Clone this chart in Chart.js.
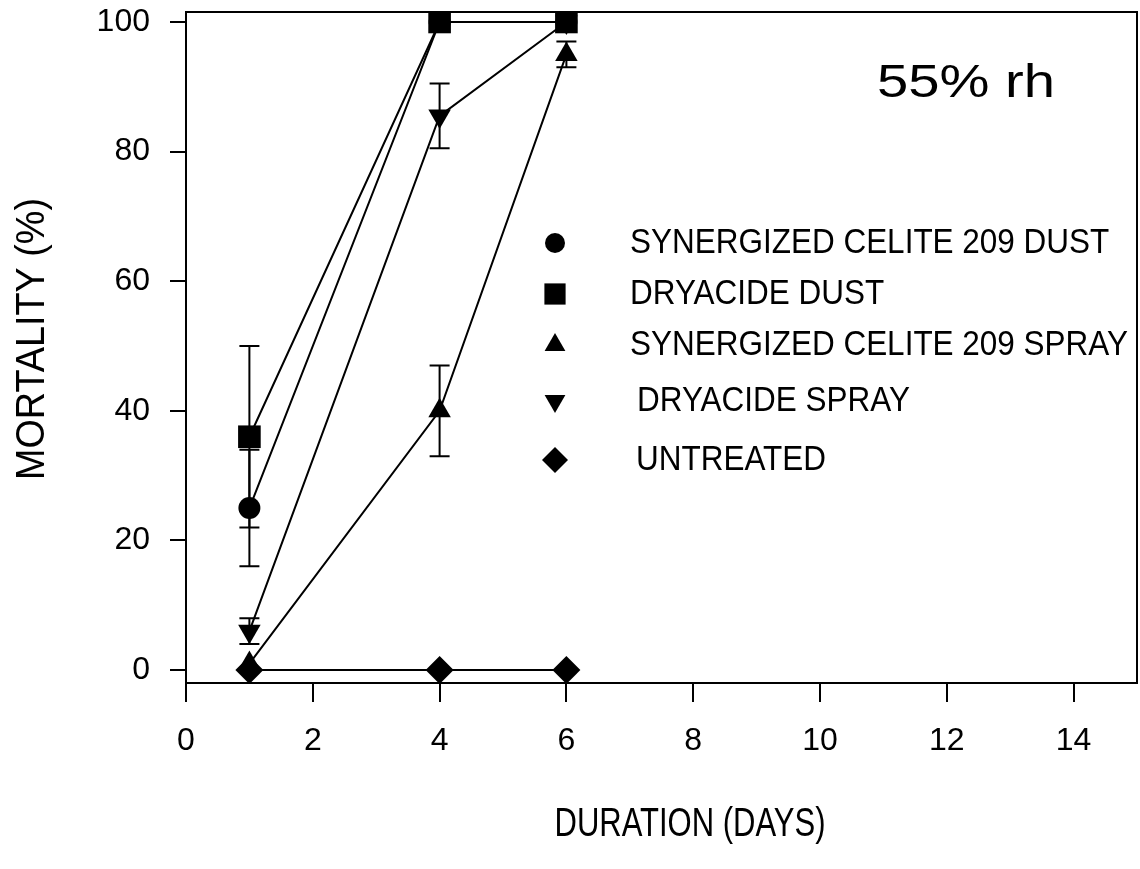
<!DOCTYPE html>
<html>
<head>
<meta charset="utf-8">
<script src="https://cdn.jsdelivr.net/npm/chart.js@4.4.0/dist/chart.umd.min.js"></script>
<style>
  html, body { margin: 0; padding: 0; background: #fff; }
</style>
</head>
<body>
<canvas id="chart" width="1140" height="869"></canvas>
<script>
// exposure time in days
const days = [1, 4, 6];

const seriesNames = [
    'SYNERGIZED CELITE 209 DUST',
    'DRYACIDE DUST',
    'SYNERGIZED CELITE 209 SPRAY',
    'DRYACIDE SPRAY',
    'UNTREATED'
];

// mortality (%) and error bar half-widths
const celiteDust = [25, 100, 100];
const celiteDustErr = [9, 0, 0];
const dryacideDust = [36, 100, 100];
const dryacideDustErr = [14, 0, 0];
const celiteSpray = [1, 40, 95];
const celiteSprayErr = [0, 7, 2];
const dryacideSpray = [6, 85.5, 100];
const dryacideSprayErr = [2, 5, 0];
const untreated = [0, 0, 0];
const untreatedErr = [0, 0, 0];

const xTicks = [0, 2, 4, 6, 8, 10, 12, 14];
const yTicks = [0, 20, 40, 60, 80, 100];

const xTitle = 'DURATION (DAYS)';
const yTitle = 'MORTALITY (%)';
const panelLabel = '55% rh';

function points(values, errs) {
    return days.map((d, i) => ({ x: d, y: values[i], err: errs[i] }));
}

const markerStyles = [
    { pointStyle: 'circle', radius: 11, rotation: 0 },
    { pointStyle: 'rect', radius: 16, rotation: 0 },
    { pointStyle: 'triangle', radius: 13, rotation: 0 },
    { pointStyle: 'triangle', radius: 13, rotation: 180 },
    { pointStyle: 'rectRot', radius: 14, rotation: 0 }
];
// lower order is drawn last (on top) where markers overlap
const drawOrder = [4, 0, 3, 2, 1];

const allValues = [celiteDust, dryacideDust, celiteSpray, dryacideSpray, untreated];
const allErrs = [celiteDustErr, dryacideDustErr, celiteSprayErr, dryacideSprayErr, untreatedErr];

const datasets = seriesNames.map((name, k) => ({
    label: name,
    data: points(allValues[k], allErrs[k]),
    showLine: true,
    borderColor: '#000',
    backgroundColor: '#000',
    borderWidth: 2,
    pointStyle: markerStyles[k].pointStyle,
    pointRadius: markerStyles[k].radius,
    pointRotation: markerStyles[k].rotation,
    pointBorderWidth: 0,
    order: drawOrder[k]
}));

const FONT = '"Liberation Sans", Arial, sans-serif';

// draws text squeezed horizontally to a target width (the scan uses a narrow face)
function narrowText(ctx, text, x, y, width, rotate) {
    const w = ctx.measureText(text).width;
    ctx.save();
    ctx.translate(x, y);
    if (rotate) ctx.rotate(-Math.PI / 2);
    ctx.scale(width / w, 1);
    ctx.fillText(text, 0, 0);
    ctx.restore();
}

// error bars, drawn under the markers
const errorBars = {
    id: 'errorBars',
    beforeDatasetsDraw(chart) {
        const ctx = chart.ctx;
        const xs = chart.scales.x, ys = chart.scales.y;
        ctx.save();
        ctx.strokeStyle = '#000';
        ctx.lineWidth = 2;
        chart.data.datasets.forEach(ds => {
            ds.data.forEach(p => {
                if (!p.err) return;
                const x = xs.getPixelForValue(p.x);
                const top = ys.getPixelForValue(Math.min(p.y + p.err, ys.max));
                const bot = ys.getPixelForValue(p.y - p.err);
                ctx.beginPath();
                ctx.moveTo(x, top); ctx.lineTo(x, bot);
                ctx.moveTo(x - 10, top); ctx.lineTo(x + 10, top);
                ctx.moveTo(x - 10, bot); ctx.lineTo(x + 10, bot);
                ctx.stroke();
            });
        });
        ctx.restore();
    }
};

// full frame, axis titles, in-plot legend and panel label
const decorations = {
    id: 'decorations',
    afterDraw(chart) {
        const ctx = chart.ctx;
        const a = chart.chartArea;
        ctx.save();
        ctx.strokeStyle = '#000';
        ctx.lineWidth = 2;
        ctx.strokeRect(a.left, a.top, a.right - a.left, a.bottom - a.top);

        ctx.fillStyle = '#000';
        ctx.textBaseline = 'middle';

        // axis titles
        ctx.textAlign = 'center';
        ctx.font = '40px ' + FONT;
        narrowText(ctx, xTitle, 690, 825, 271, false);
        narrowText(ctx, yTitle, 33, 339, 282, true);

        // legend
        ctx.textAlign = 'left';
        const rows = [243, 294, 345, 401, 460];
        const textX = [630, 630, 630, 637, 636];
        ctx.font = '35px ' + FONT;
        const sx = 498 / ctx.measureText(seriesNames[2]).width;
        seriesNames.forEach((name, k) => {
            const m = markerStyles[k];
            Chart.helpers.drawPoint(ctx, {
                pointStyle: m.pointStyle,
                rotation: m.rotation,
                radius: m.radius - 1,
                borderWidth: 0
            }, 555, rows[k]);
            ctx.save();
            ctx.translate(textX[k], rows[k]);
            ctx.scale(sx, 1);
            ctx.fillText(name, 0, 0);
            ctx.restore();
        });

        // relative humidity label
        ctx.font = '46px ' + FONT;
        ctx.textBaseline = 'alphabetic';
        narrowText(ctx, panelLabel, 877, 97, 178, false);
        ctx.restore();
    }
};

const tickFont = { family: FONT, size: 32 };

function fixScale(size) {
    return s => {
        if (s.isHorizontal()) s.height = size; else s.width = size;
        s.paddingTop = 0; s.paddingBottom = 0; s.paddingLeft = 0; s.paddingRight = 0;
    };
}

new Chart(document.getElementById('chart'), {
    type: 'scatter',
    data: { datasets },
    options: {
        responsive: false,
        animation: false,
        layout: { autoPadding: false, padding: { top: 12, right: 3, left: 0, bottom: 0 } },
        plugins: { legend: { display: false }, tooltip: { enabled: false } },
        scales: {
            x: {
                type: 'linear',
                min: 0,
                max: 15,
                afterBuildTicks: s => { s.ticks = xTicks.map(v => ({ value: v })); },
                afterFit: fixScale(186),
                grid: { drawOnChartArea: false, drawTicks: true, tickLength: 19, color: '#000', lineWidth: 2 },
                border: { display: true, color: '#000', width: 2 },
                ticks: { color: '#000', font: tickFont, padding: 20, maxRotation: 0 }
            },
            y: {
                type: 'linear',
                min: -2,
                max: 101.54,
                afterBuildTicks: s => { s.ticks = yTicks.map(v => ({ value: v })); },
                afterFit: fixScale(186),
                grid: { drawOnChartArea: false, drawTicks: true, tickLength: 16, color: '#000', lineWidth: 2 },
                border: { display: true, color: '#000', width: 2 },
                ticks: { color: '#000', font: tickFont, padding: 20 }
            }
        }
    },
    plugins: [errorBars, decorations]
});
</script>
</body>
</html>
